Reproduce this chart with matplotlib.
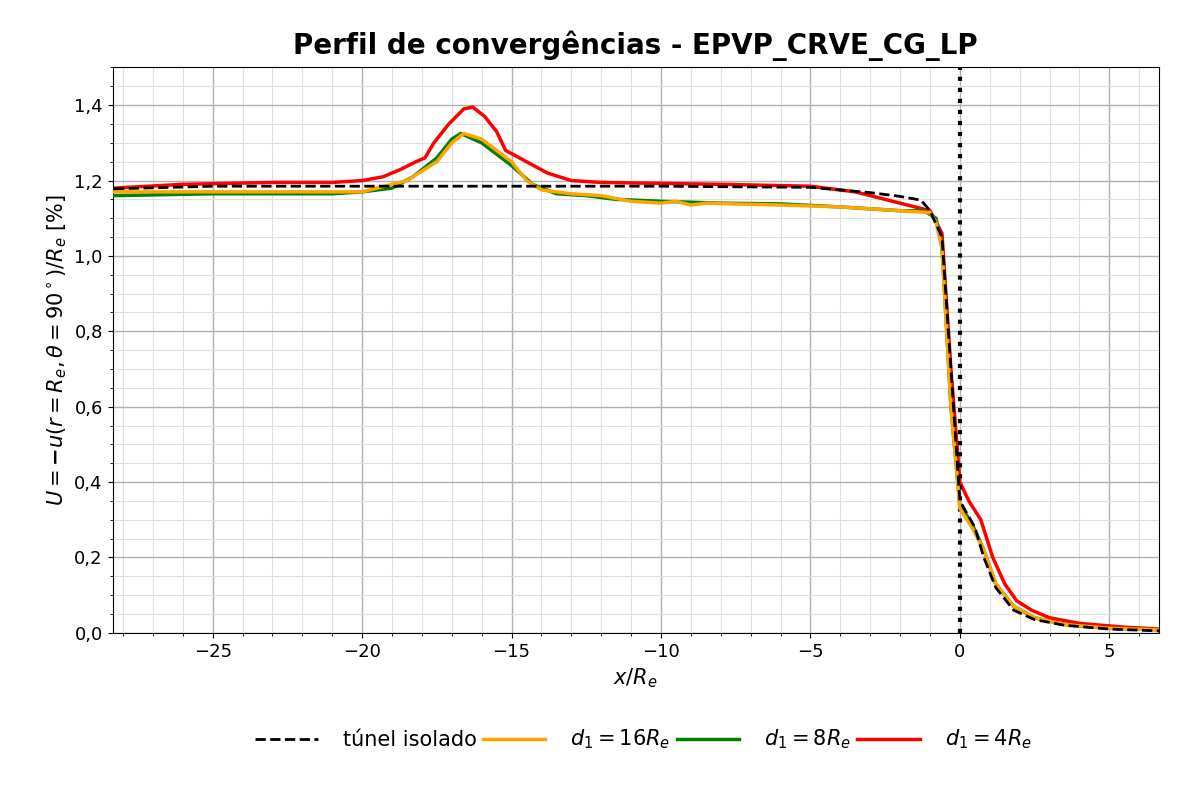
import numpy as np
import matplotlib
matplotlib.use("Agg")
import matplotlib.pyplot as plt
from matplotlib.ticker import MultipleLocator, FuncFormatter

# tunnel alone
x_iso = [-28.3, -25, -20, -10, -5, -4, -3, -2, -1.3, -1.0, -0.6, -0.3, 0.0, 0.5, 0.8, 1.2, 1.8, 2.5, 3.5, 5.0, 6.7]
u_iso = [1.178, 1.185, 1.185, 1.185, 1.182, 1.175, 1.168, 1.158, 1.148, 1.12, 1.05, 0.7, 0.35, 0.28, 0.2, 0.12, 0.06, 0.035, 0.02, 0.01, 0.005]

x_16 = [-28.3, -25, -20, -19.5, -18.5, -17.5, -17, -16.6, -16, -15, -14.5, -14, -13, -12, -11, -10, -9.5, -9, -8.5, -6, -4, -2, -1, -0.8, -0.6, -0.3, 0.0, 0.4, 0.8, 1.2, 1.8, 2.5, 3.5, 5.0, 6.7]
u_16 = [1.17, 1.17, 1.17, 1.18, 1.2, 1.25, 1.3, 1.325, 1.31, 1.25, 1.2, 1.175, 1.165, 1.16, 1.145, 1.14, 1.145, 1.135, 1.14, 1.135, 1.13, 1.12, 1.115, 1.09, 1.02, 0.6, 0.33, 0.28, 0.22, 0.13, 0.07, 0.04, 0.022, 0.012, 0.008]

x_8 = [-28.3, -25, -21, -20, -19, -18.3, -17.5, -17, -16.7, -16, -15, -14.3, -13.5, -12.5, -11.5, -10, -8, -6, -4, -2, -1.2, -0.8, -0.6, -0.3, 0.0, 0.4, 0.8, 1.2, 1.8, 2.5, 3.5, 5.0, 6.7]
u_8 = [1.16, 1.165, 1.165, 1.17, 1.18, 1.21, 1.26, 1.31, 1.325, 1.3, 1.24, 1.19, 1.165, 1.16, 1.15, 1.145, 1.14, 1.138, 1.13, 1.12, 1.12, 1.1, 1.03, 0.6, 0.34, 0.29, 0.22, 0.13, 0.07, 0.04, 0.022, 0.012, 0.008]

x_4 = [-28.3, -26, -23, -21, -20, -19.3, -18.7, -18.2, -17.9, -17.6, -17.1, -16.6, -16.3, -15.9, -15.5, -15.2, -14.5, -13.8, -13, -12, -8, -5, -3.5, -2.5, -1.5, -1.0, -0.6, -0.3, 0.0, 0.3, 0.7, 1.1, 1.5, 1.9, 2.4, 3.0, 4.0, 5.5, 6.7]
u_4 = [1.18, 1.19, 1.195, 1.195, 1.2, 1.21, 1.23, 1.25, 1.26, 1.3, 1.35, 1.39, 1.395, 1.37, 1.33, 1.28, 1.25, 1.22, 1.2, 1.195, 1.19, 1.185, 1.17, 1.15, 1.13, 1.12, 1.06, 0.7, 0.4, 0.35, 0.3, 0.2, 0.13, 0.085, 0.06, 0.04, 0.025, 0.015, 0.01]

fig, ax = plt.subplots(figsize=(11.85, 7.94), dpi=100)
fig.subplots_adjust(left=0.095, right=0.978, top=0.915, bottom=0.203)

ax.plot(x_iso, u_iso, "k--", lw=2, label="túnel isolado", zorder=5)
ax.plot(x_16, u_16, color="orange", lw=2.5, label=r"$d_1 = 16R_e$", zorder=4)
ax.plot(x_8, u_8, color="green", lw=2.5, label=r"$d_1 = 8R_e$", zorder=3)
ax.plot(x_4, u_4, color="red", lw=2.5, label=r"$d_1 = 4R_e$", zorder=2)
ax.axvline(0, color="k", ls=":", lw=3)

ax.set_xlim(-28.35, 6.66)
ax.set_ylim(0, 1.5)
ax.xaxis.set_major_locator(MultipleLocator(5))
ax.xaxis.set_minor_locator(MultipleLocator(1))
ax.yaxis.set_major_locator(MultipleLocator(0.2))
ax.yaxis.set_minor_locator(MultipleLocator(0.05))
ax.yaxis.set_major_formatter(FuncFormatter(lambda v, p: f"{v:.1f}".replace(".", ",")))
ax.grid(which="major", color="#b0b0b0", lw=1)
ax.grid(which="minor", color="#e0e0e0", lw=0.8)
ax.tick_params(labelsize=13)

ax.set_xlabel(r"$x/R_e$", fontsize=15)
ax.set_ylabel(r"$U = \mathbf{-}u(r = R_e, \theta = 90^\circ)/R_e$ [%]", fontsize=15)
ax.set_title("Perfil de convergências - EPVP_CRVE_CG_LP", fontsize=20, fontweight="bold", pad=10)
fig.legend(loc="lower center", ncol=4, frameon=False, fontsize=15,
           bbox_to_anchor=(0.543, 0.03), columnspacing=0.3, handletextpad=1.2,
           handlelength=3.0)

fig.savefig("out.png")
